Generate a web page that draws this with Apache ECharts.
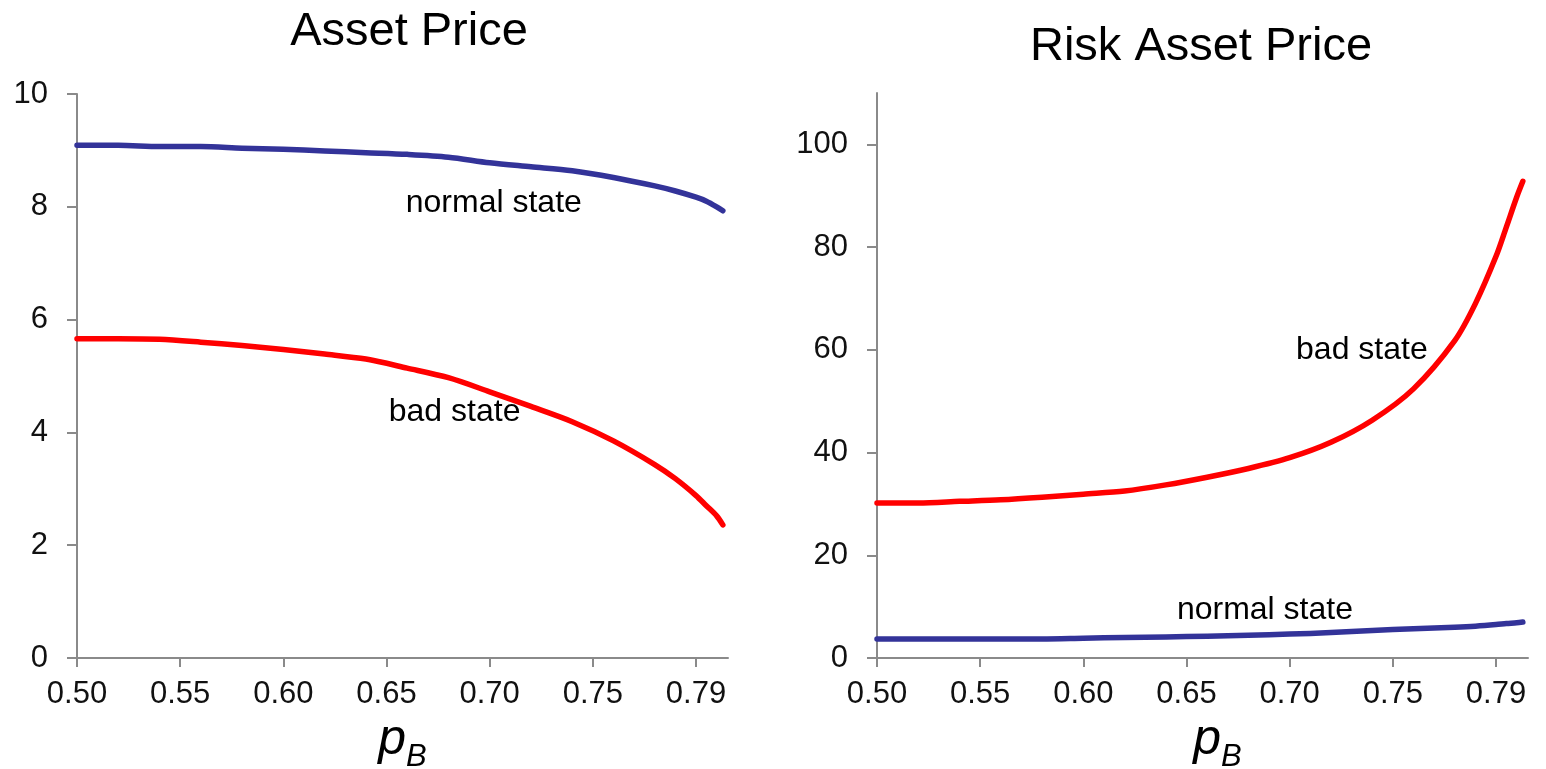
<!DOCTYPE html>
<html>
<head>
<meta charset="utf-8">
<script src="https://cdn.jsdelivr.net/npm/echarts@6/dist/echarts.min.js"></script>
<style>
html,body{margin:0;padding:0;background:#fff;}
#chart{width:1546px;height:769px;}
</style>
</head>
<body>
<div id="chart"></div>
<script>
// p_B grid (x values)
const pB = [0.50,0.52,0.54,0.56,0.58,0.60,0.62,0.64,0.66,0.68,0.70,0.72,0.74,0.76,0.78,0.79,0.80,0.805,0.81,0.813];
// Asset Price
const assetNormal = [9.09,9.09,9.07,9.07,9.04,9.02,8.99,8.96,8.93,8.88,8.78,8.71,8.64,8.52,8.37,8.28,8.17,8.10,8.00,7.93];
const assetBad    = [5.66,5.66,5.65,5.60,5.54,5.47,5.39,5.30,5.14,4.97,4.72,4.46,4.19,3.85,3.43,3.18,2.88,2.70,2.52,2.36];
// Risk Asset Price
const riskBad     = [30.2,30.2,30.5,30.8,31.3,31.9,32.5,33.7,35.2,36.9,39.0,42.0,46.3,52.4,61.8,69.0,78.2,83.9,89.7,92.8];
const riskNormal  = [3.7,3.7,3.7,3.7,3.7,3.85,4.0,4.1,4.25,4.45,4.65,4.95,5.35,5.7,6.0,6.2,6.5,6.7,6.85,7.0];
// tick labels
const xTickValues = [0.50,0.55,0.60,0.65,0.70,0.75,0.80];
const xTickLabels = ['0.50','0.55','0.60','0.65','0.70','0.75','0.79'];
const leftYTicks  = [0,2,4,6,8,10];
const rightYTicks = [0,20,40,60,80,100];
const titles = ['Asset Price','Risk Asset Price'];
// annotation anchors (data coords)
const notes = [
  {grid:0, text:'normal state', at:[0.702, 8.07]},
  {grid:0, text:'bad state',    at:[0.683, 4.36]},
  {grid:1, text:'bad state',    at:[0.735, 60.0]},
  {grid:1, text:'normal state', at:[0.688, 9.35]}
];

const FONT = '"Liberation Sans", Arial, sans-serif';
const AXIS_COLOR = '#8a8a8a';
const BLUE = '#333399';
const RED = '#ff0000';

function zip(xs, ys){ return xs.map((x,i)=>[x, ys[i]]); }

function xAxisCfg(gi, namePadLeft){
  return {
    type:'value', gridIndex:gi, min:0.5, max:0.8155,
    axisLine:{show:true, onZero:false, lineStyle:{color:AXIS_COLOR, width:2}},
    axisTick:{show:true, length:9, customValues:xTickValues, lineStyle:{color:AXIS_COLOR, width:2}},
    axisLabel:{show:true, customValues:xTickValues, margin:21, color:'#111', fontSize:31, fontFamily:FONT,
      formatter:function(v){
        const i = xTickValues.findIndex(t=>Math.abs(t-v)<1e-9);
        return i>=0 ? xTickLabels[i] : '';
      }},
    splitLine:{show:false},
    name:'{p|p}{b|B}', nameLocation:'middle', nameGap:56,
    nameTextStyle:{
      padding:[0,0,0,namePadLeft],
      rich:{
        p:{fontFamily:FONT, fontStyle:'italic', fontSize:50, color:'#000', verticalAlign:'bottom'},
        b:{fontFamily:FONT, fontStyle:'italic', fontSize:31, color:'#000', verticalAlign:'bottom', padding:[0,0,-8,0]}
      }
    }
  };
}
function yAxisCfg(gi, max, ticks){
  return {
    type:'value', gridIndex:gi, min:0, max:max,
    axisLine:{show:true, lineStyle:{color:AXIS_COLOR, width:2}},
    axisTick:{show:true, length:10, customValues:ticks, lineStyle:{color:AXIS_COLOR, width:2}},
    axisLabel:{show:true, customValues:ticks, margin:29, color:'#111', fontSize:31, fontFamily:FONT},
    splitLine:{show:false}
  };
}
function lineSeries(gi, ys, color, noteList){
  return {
    type:'line', xAxisIndex:gi, yAxisIndex:gi, data:zip(pB, ys),
    showSymbol:false, symbol:'none', smooth:0.3,
    lineStyle:{color:color, width:5.5, cap:'round', join:'round'},
    itemStyle:{color:color},
    animation:false,
    markPoint: noteList ? {
      symbol:'circle', symbolSize:0, animation:false, silent:true,
      data: noteList.map(n=>({coord:n.at, value:n.text,
        label:{show:true, position:'inside', formatter:n.text, color:'#000', fontSize:32, fontFamily:FONT}}))
    } : undefined
  };
}

const chart = echarts.init(document.getElementById('chart'), null, {renderer:'canvas'});
chart.setOption({
  backgroundColor:'#fff',
  animation:false,
  title:[
    {text:titles[0], left:404, top:4, textAlign:'center', textStyle:{fontFamily:FONT, fontSize:47, fontWeight:'normal', color:'#000'}},
    {text:titles[1], left:1196, top:19, textAlign:'center', textStyle:{fontFamily:FONT, fontSize:47, fontWeight:'normal', color:'#000'}}
  ],
  grid:[
    {left:77, top:94, width:651, height:564, outerBoundsMode:'none', containLabel:false},
    {left:877, top:93, width:651, height:565, outerBoundsMode:'none', containLabel:false}
  ],
  xAxis:[xAxisCfg(0, 0), xAxisCfg(1, 30)],
  yAxis:[yAxisCfg(0, 10, leftYTicks), yAxisCfg(1, 110, rightYTicks)],
  series:[
    lineSeries(0, assetNormal, BLUE, notes.filter(n=>n.grid===0)),
    lineSeries(0, assetBad, RED, null),
    lineSeries(1, riskBad, RED, notes.filter(n=>n.grid===1)),
    lineSeries(1, riskNormal, BLUE, null)
  ]
});
</script>
</body>
</html>
